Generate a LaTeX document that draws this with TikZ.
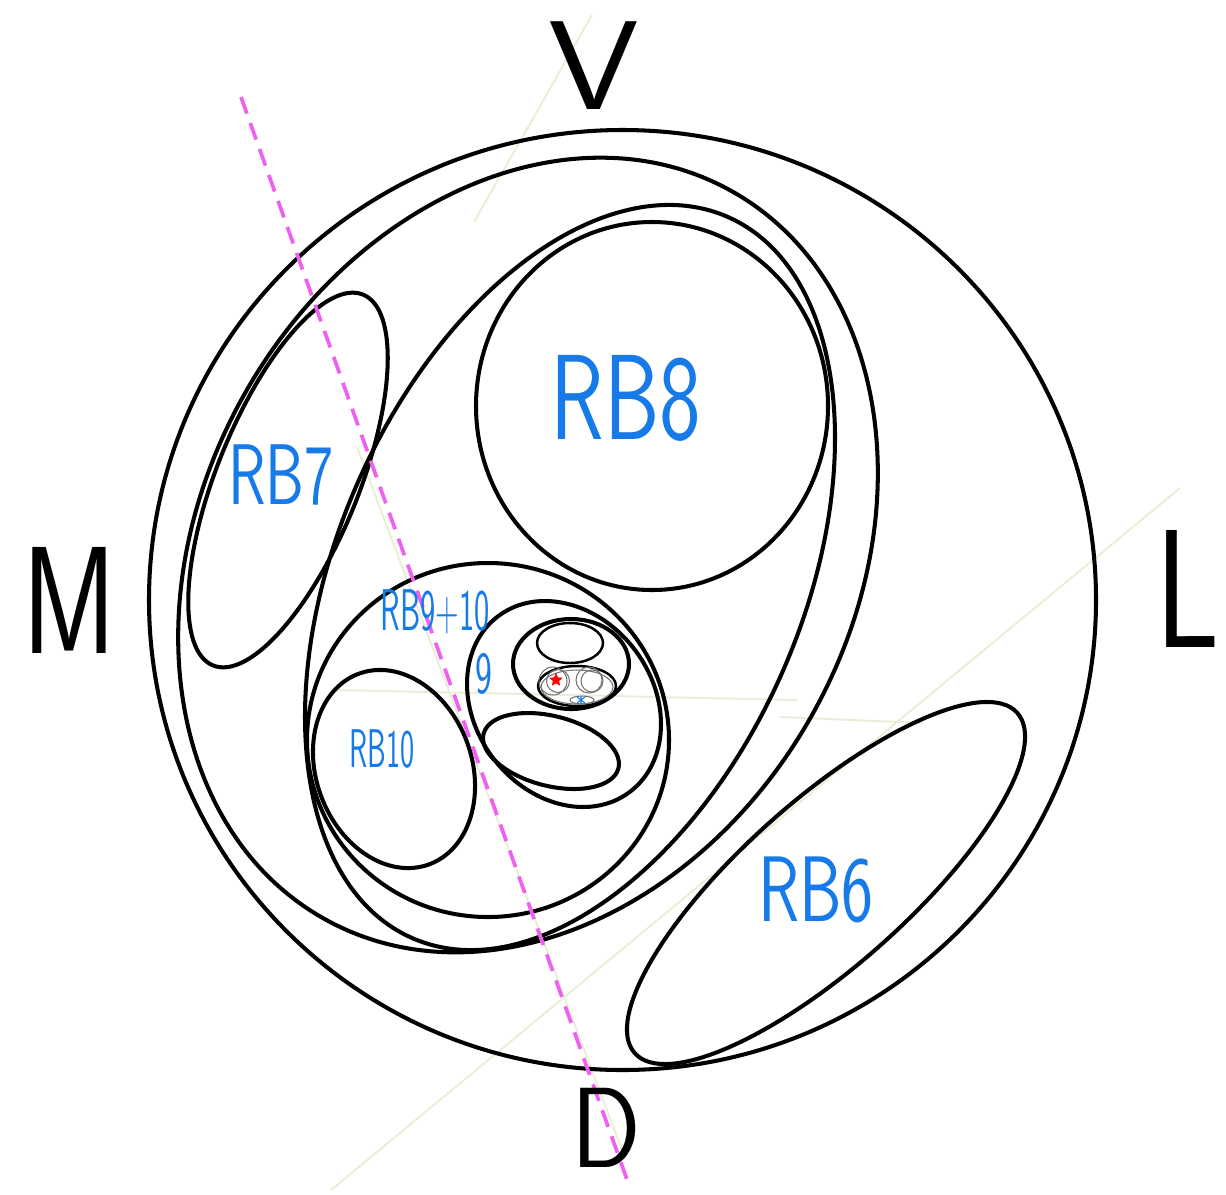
\documentclass[tikz,border=0pt]{standalone}
\usepackage{fontspec}
\usetikzlibrary{shapes.geometric}
\definecolor{hblue}{RGB}{22,122,232}
\definecolor{pinkd}{RGB}{240,96,240}
\definecolor{faintc}{RGB}{234,238,214}
\tikzset{
  ln/.style={line width=2.3pt, black},
  lnthin/.style={line width=1.4pt, black},
  gr/.style={line width=0.6pt, black!55},
  hand/.style={text=hblue, inner sep=0pt},
  dir/.style={text=black, inner sep=0pt},
  faint/.style={draw=faintc, line width=1.1pt},
  cutline/.style={draw=pinkd, line width=2.1pt, dash pattern=on 10pt off 5.7pt}
}
\newcommand{\hwfont}[1]{\sffamily\fontsize{#1}{#1}\selectfont}
\begin{document}
\begin{tikzpicture}[x=0.02cm,y=-0.02cm]
\useasboundingbox (0,0) rectangle (1226,1194);
% faint pencil lines
\coordinate (fa1) at (592,15);   \coordinate (fa2) at (474,222);
\coordinate (fb1) at (1180,488); \coordinate (fb2) at (331,1190);
\coordinate (fc1) at (337,690);  \coordinate (fc2) at (797,700);
\coordinate (fd1) at (780,717);  \coordinate (fd2) at (923,723);
\coordinate (fe1) at (357,447);  \coordinate (fe2) at (622,1150);
\draw[faint] (fa1) -- (fa2);
\draw[faint] (fb1) -- (fb2);
\draw[faint] (fc1) -- (fc2);
\draw[faint] (fd1) -- (fd2);
\draw[faint] (fe1) -- (fe2);
% outer circle
\draw[ln] (622.5,600) ellipse [x radius=473.5, y radius=470];
% E1 big ellipse
\draw[ln, rotate around={60.8:(528,555)}] (528,555) ellipse [x radius=417, y radius=326];
% E2 teardrop ellipse
\draw[ln, rotate around={66.4:(570,577.5)}] (570,577.5) ellipse [x radius=393.6, y radius=232.5];
% RB7
\draw[ln, rotate around={68:(288,480)}] (288,480) ellipse [x radius=200, y radius=71];
% RB8
\draw[ln] (652,406) ellipse [x radius=176, y radius=184];
% RB6
\draw[ln, rotate around={41.65:(826,883)}] (826,883) ellipse [x radius=256, y radius=82.7];
% RB9+10
\draw[ln] (488,740) ellipse [x radius=181, y radius=177];
% RB10
\draw[ln, rotate around={110.3:(394,769)}] (394,769) ellipse [x radius=101.6, y radius=77.8];
% 9 ring
\draw[ln, rotate around={126.5:(564,704)}] (564,704) ellipse [x radius=109.8, y radius=89.2];
% lower ellipse in 9
\draw[ln, rotate around={-14.4:(551,751)}] (551,751) ellipse [x radius=69.6, y radius=34.9];
% group ellipse
\draw[ln] (571,664) ellipse [x radius=58, y radius=45];
\draw[lnthin] (570,643) ellipse [x radius=33, y radius=20];
\draw[lnthin] (577,686) ellipse [x radius=39, y radius=20];
\draw[gr] (577,687) ellipse [x radius=36, y radius=17];
\draw[gr] (553,681) circle [radius=14];
\draw[gr] (558,681) circle [radius=11.5];
\draw[gr] (589,680) circle [radius=13];
\draw[gr] (592,681) circle [radius=11];
\draw[gr] (582,700) ellipse [x radius=12, y radius=4];
\node[star, star points=5, star point ratio=2.2, fill=red, draw=red, minimum size=7pt, inner sep=0pt] (redstar) at (556,680) {};
\draw[hblue, line width=0.6pt] (577,697) -- (585,703) (585,697) -- (577,703) (581,696) -- (581,704);
% magenta dashed line
\coordinate (m1) at (241,97);
\coordinate (m2) at (630,1188);
\draw[cutline] (m1) -- (m2);
% labels
\node[hand, font=\hwfont{69}] (lrb8) at (626,398) {\scalebox{0.73}[1]{RB8}};
\node[hand, font=\hwfont{49}] (lrb7) at (281,475) {\scalebox{0.72}[1]{RB7}};
\node[hand, font=\hwfont{53}] (lrb6) at (816,890) {\scalebox{0.73}[1]{RB6}};
\node[hand, font=\hwfont{31}] (lrb10) at (382,749) {\scalebox{0.55}[1]{RB10}};
\node[hand, font=\hwfont{33.5}] (lrb910) at (435,612) {\scalebox{0.55}[1]{RB9+10}};
\node[hand, font=\hwfont{34}] (lnine) at (484,674) {\scalebox{0.6}[1]{9}};
\node[dir, font=\hwfont{72}] (lV) at (594,66) {\scalebox{1.15}[1]{V}};
\node[dir, font=\hwfont{87}] (lM) at (70,600) {\scalebox{0.75}[1]{M}};
\node[dir, font=\hwfont{96}] (lL) at (1188,589) {\scalebox{0.75}[1]{L}};
\node[dir, font=\hwfont{65}] (lD) at (606,1128) {\scalebox{0.9}[1]{D}};
\end{tikzpicture}
\end{document}
